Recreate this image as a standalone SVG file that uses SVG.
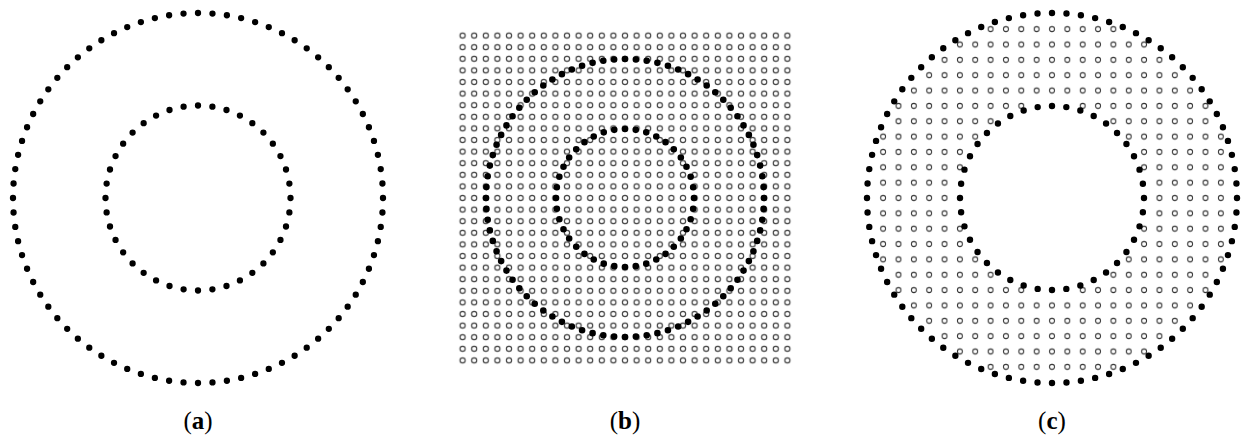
<svg xmlns="http://www.w3.org/2000/svg" width="1248" height="439" viewBox="0 0 1248 439">
<style>
.ring{fill:none;stroke:#000;stroke-linecap:round;stroke-dasharray:0 1}
.lbl{font-family:"Liberation Serif","Times New Roman",serif;font-size:25px;fill:#000;text-anchor:middle}
.lbl tspan.b{font-weight:bold}
</style>
<defs>
<pattern id="gridB" patternUnits="userSpaceOnUse" x="619.2" y="192.2" width="11.6" height="11.6">
<circle cx="5.8" cy="5.8" r="2.6" fill="none" stroke="#3a3a3a" stroke-width="1.1"/>
</pattern>
<pattern id="gridC" patternUnits="userSpaceOnUse" x="1044.325" y="190.325" width="15.35" height="15.35">
<circle cx="7.675" cy="7.675" r="2.5" fill="none" stroke="#333" stroke-width="1"/>
</pattern>
</defs>
<rect width="1248" height="439" fill="#fff"/>

<g id="panel-a">
<circle class="ring" cx="198" cy="198" r="185" pathLength="80" stroke-width="6.3"/>
<circle class="ring" cx="198" cy="198" r="92.5" pathLength="40" stroke-width="6.3"/>
<text class="lbl" x="198" y="429">(<tspan class="b">a</tspan>)</text>
</g>

<g id="panel-b">
<rect x="456.8" y="29.8" width="336.4" height="336.4" fill="url(#gridB)"/>
<circle class="ring" cx="625" cy="198" r="139" pathLength="80" stroke-width="6.6"/>
<circle class="ring" cx="625" cy="198" r="69" pathLength="40" stroke-width="6.6"/>
<text class="lbl" x="625" y="429">(<tspan class="b">b</tspan>)</text>
</g>

<g id="panel-c">
<g fill="url(#gridC)">
<rect x="982.925" y="21.475" width="138.15" height="15.35"/>
<rect x="952.225" y="36.825" width="199.55" height="15.35"/>
<rect x="936.875" y="52.175" width="230.25" height="15.35"/>
<rect x="921.525" y="67.525" width="260.95" height="15.35"/>
<rect x="906.175" y="82.875" width="291.65" height="15.35"/>
<rect x="890.825" y="98.225" width="138.15" height="15.35"/>
<rect x="1075.025" y="98.225" width="138.15" height="15.35"/>
<rect x="890.825" y="113.575" width="107.45" height="15.35"/>
<rect x="1105.725" y="113.575" width="107.45" height="15.35"/>
<rect x="875.475" y="128.925" width="107.45" height="15.35"/>
<rect x="1121.075" y="128.925" width="107.45" height="15.35"/>
<rect x="875.475" y="144.275" width="92.1" height="30.7"/>
<rect x="1136.425" y="144.275" width="92.1" height="30.7"/>
<rect x="875.475" y="174.975" width="76.75" height="46.05"/>
<rect x="1151.775" y="174.975" width="76.75" height="46.05"/>
<rect x="875.475" y="221.025" width="92.1" height="30.7"/>
<rect x="1136.425" y="221.025" width="92.1" height="30.7"/>
<rect x="875.475" y="251.725" width="107.45" height="15.35"/>
<rect x="1121.075" y="251.725" width="107.45" height="15.35"/>
<rect x="890.825" y="267.075" width="107.45" height="15.35"/>
<rect x="1105.725" y="267.075" width="107.45" height="15.35"/>
<rect x="890.825" y="282.425" width="138.15" height="15.35"/>
<rect x="1075.025" y="282.425" width="138.15" height="15.35"/>
<rect x="906.175" y="297.775" width="291.65" height="15.35"/>
<rect x="921.525" y="313.125" width="260.95" height="15.35"/>
<rect x="936.875" y="328.475" width="230.25" height="15.35"/>
<rect x="952.225" y="343.825" width="199.55" height="15.35"/>
<rect x="982.925" y="359.175" width="138.15" height="15.35"/>
</g>
<circle class="ring" cx="1052" cy="198" r="185" pathLength="80" stroke-width="6.4"/>
<circle class="ring" cx="1052" cy="198" r="92" pathLength="40" stroke-width="6.4"/>
<text class="lbl" x="1052" y="429">(<tspan class="b">c</tspan>)</text>
</g>
</svg>
